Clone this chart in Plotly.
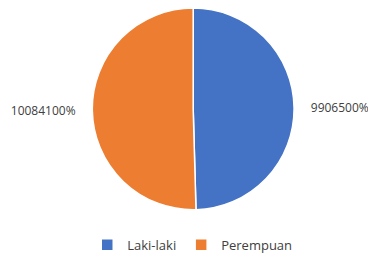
import plotly.graph_objects as go

labels = ["Laki-laki", "Perempuan"]
values = [99065, 100841]
colors = ["#4472C4", "#ED7D31"]

pad = "\u00a0" * 4
fig = go.Figure(go.Pie(
    labels=labels,
    values=values,
    marker=dict(colors=colors, line=dict(color="white", width=1.5)),
    sort=False,
    direction="clockwise",
    rotation=0,
    textposition="outside",
    texttemplate=[pad + "%{value:.0%}", "%{value:.0%}" + pad],
    textfont=dict(family="Open Sans", size=12, color="#404040"),
    showlegend=True,
    domain=dict(x=[0.0, 0.985], y=[0.215, 1.0]),
    automargin=False,
))

fig.update_layout(
    width=376, height=257,
    margin=dict(l=0, r=0, t=0, b=0),
    paper_bgcolor="white",
    plot_bgcolor="white",
    legend=dict(orientation="h", x=0.49, xanchor="center", y=0.02, yanchor="bottom",
                font=dict(family="Open Sans", size=13, color="#404040"),
                itemwidth=30, tracegroupgap=0),
)

fig.write_html("out.html")
